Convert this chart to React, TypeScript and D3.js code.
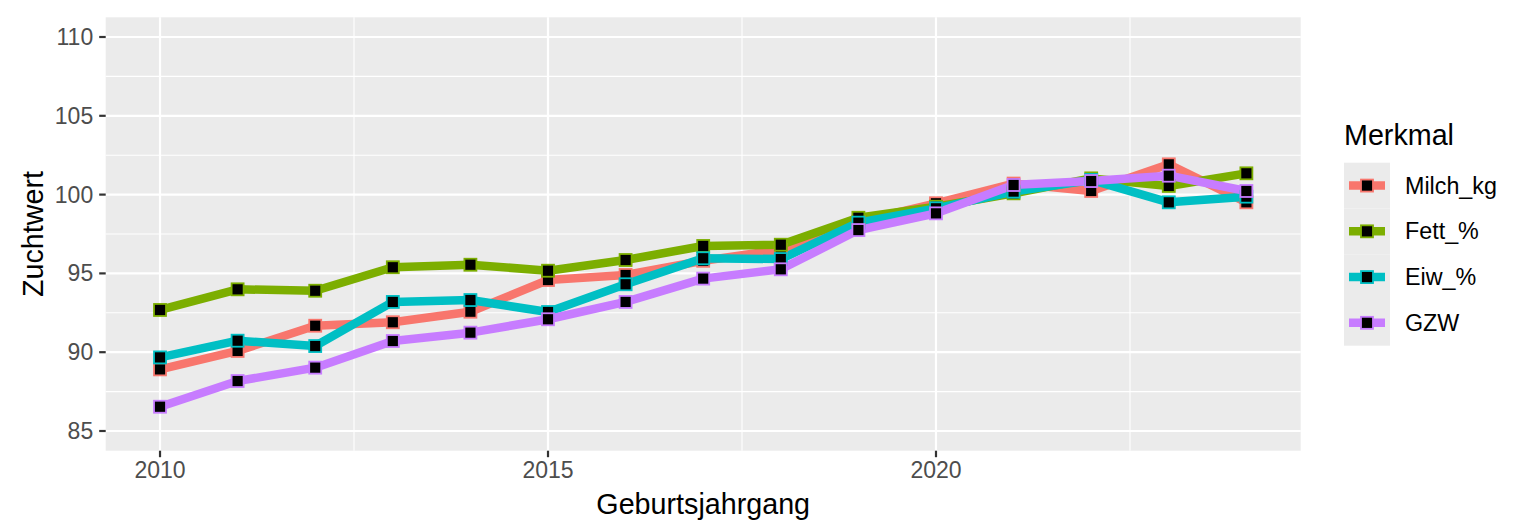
import * as d3 from "d3";

// Zuchtwert by birth year, one array per trait
const years = [2010, 2011, 2012, 2013, 2014, 2015, 2016, 2017, 2018, 2019, 2020, 2021, 2022, 2023, 2024];
const milchKg = [88.91, 90.08, 91.68, 91.9, 92.57, 94.58, 94.9, 95.8, 96.5, 98.28, 99.45, 100.7, 100.23, 101.92, 99.51];
const fettPct = [92.68, 93.99, 93.9, 95.39, 95.55, 95.17, 95.85, 96.74, 96.82, 98.53, 99.23, 100.08, 101.03, 100.55, 101.35];
const eiwPct = [89.67, 90.73, 90.39, 93.19, 93.31, 92.55, 94.31, 95.96, 95.91, 98.22, 99.13, 100.19, 100.93, 99.51, 99.87];
const gzw = [86.54, 88.17, 89.02, 90.71, 91.24, 92.09, 93.19, 94.67, 95.26, 97.75, 98.81, 100.61, 100.86, 101.2, 100.23];

const seriesNames = ["Milch_kg", "Fett_%", "Eiw_%", "GZW"];
const seriesValues = [milchKg, fettPct, eiwPct, gzw];
const seriesColors = ["#F8766D", "#7CAE00", "#00BFC4", "#C77CFF"];

const yTicks = [85, 90, 95, 100, 105, 110];
const yMinor = [87.5, 92.5, 97.5, 102.5, 107.5];
const xTicks = [2010, 2015, 2020];
const xMinor = [2012.5, 2017.5, 2022.5];

const W = 1518;
const H = 532;
const font = "'Liberation Sans', Arial, Helvetica, sans-serif";

export default function App() {
  const panel = { left: 105.7, right: 1300.7, top: 17.3, bottom: 450.7 };

  const x = d3.scaleLinear().domain([2009.3, 2024.7]).range([panel.left, panel.right]);
  const y = d3.scaleLinear().domain([83.75, 111.25]).range([panel.bottom, panel.top]);

  const line = d3
    .line<number>()
    .x((_, i) => x(years[i]))
    .y((d) => y(d));

  const markerSize = 12;
  const tickFont = 23;
  const titleFont = 28.7;
  const legendFont = 23.3;

  // legend
  const keyTop = 162.7;
  const keyH = 45.75;
  const keyLeft = 1344;
  const keyW = 46;

  return (
    <svg
      width={W}
      height={H}
      style={{ position: "fixed", left: 0, top: 0, background: "#fff" }}
      fontFamily={font}
    >
      <rect x={panel.left} y={panel.top} width={panel.right - panel.left} height={panel.bottom - panel.top} fill="#EBEBEB" />

      {/* grid */}
      {yMinor.map((v) => (
        <line key={"ym" + v} x1={panel.left} x2={panel.right} y1={y(v)} y2={y(v)} stroke="#fff" strokeWidth={1.1} />
      ))}
      {xMinor.map((v) => (
        <line key={"xm" + v} x1={x(v)} x2={x(v)} y1={panel.top} y2={panel.bottom} stroke="#fff" strokeWidth={1.1} />
      ))}
      {yTicks.map((v) => (
        <line key={"yg" + v} x1={panel.left} x2={panel.right} y1={y(v)} y2={y(v)} stroke="#fff" strokeWidth={2.2} />
      ))}
      {xTicks.map((v) => (
        <line key={"xg" + v} x1={x(v)} x2={x(v)} y1={panel.top} y2={panel.bottom} stroke="#fff" strokeWidth={2.2} />
      ))}

      {/* lines */}
      {seriesValues.map((vals, s) => (
        <path key={"l" + s} d={line(vals) || ""} fill="none" stroke={seriesColors[s]} strokeWidth={8.5} strokeLinejoin="round" />
      ))}

      {/* points */}
      {seriesValues.map((vals, s) =>
        vals.map((v, i) => (
          <rect
            key={"p" + s + "-" + i}
            x={x(years[i]) - markerSize / 2}
            y={y(v) - markerSize / 2}
            width={markerSize}
            height={markerSize}
            fill="#000"
            stroke={seriesColors[s]}
            strokeWidth={1.8}
          />
        ))
      )}

      {/* y axis */}
      {yTicks.map((v) => (
        <g key={"yt" + v}>
          <line x1={panel.left - 6.5} x2={panel.left} y1={y(v)} y2={y(v)} stroke="#333" strokeWidth={2.2} />
          <text x={panel.left - 12.5} y={y(v)} dy="0.35em" textAnchor="end" fontSize={tickFont} fill="#4D4D4D">
            {v}
          </text>
        </g>
      ))}

      {/* x axis */}
      {xTicks.map((v) => (
        <g key={"xt" + v}>
          <line x1={x(v)} x2={x(v)} y1={panel.bottom} y2={panel.bottom + 6.5} stroke="#333" strokeWidth={2.2} />
          <text x={x(v)} y={478} textAnchor="middle" fontSize={tickFont} fill="#4D4D4D">
            {v}
          </text>
        </g>
      ))}

      {/* axis titles */}
      <text x={(panel.left + panel.right) / 2} y={514} textAnchor="middle" fontSize={titleFont} fill="#000">
        Geburtsjahrgang
      </text>
      <text
        transform={`translate(43,${(panel.top + panel.bottom) / 2}) rotate(-90)`}
        textAnchor="middle"
        fontSize={titleFont}
        fill="#000"
      >
        Zuchtwert
      </text>

      {/* legend */}
      <text x={keyLeft} y={145} fontSize={titleFont} fill="#000">
        Merkmal
      </text>
      {seriesNames.map((name, s) => {
        const cy = keyTop + keyH * s + keyH / 2;
        return (
          <g key={"lg" + s}>
            <rect x={keyLeft} y={keyTop + keyH * s} width={keyW} height={keyH} fill="#EBEBEB" />
            <line x1={keyLeft + 5} x2={keyLeft + keyW - 5} y1={cy} y2={cy} stroke={seriesColors[s]} strokeWidth={8.5} />
            <rect
              x={keyLeft + keyW / 2 - markerSize / 2}
              y={cy - markerSize / 2}
              width={markerSize}
              height={markerSize}
              fill="#000"
              stroke={seriesColors[s]}
              strokeWidth={1.8}
            />
            <text x={1405} y={cy} dy="0.35em" fontSize={legendFont} fill="#000">
              {name}
            </text>
          </g>
        );
      })}
    </svg>
  );
}
